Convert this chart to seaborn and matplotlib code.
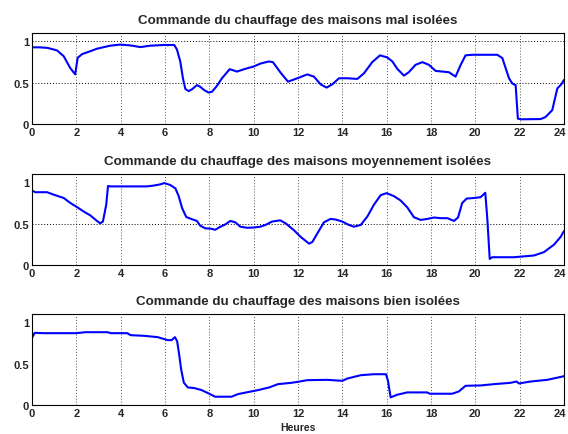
import numpy as np
import pandas as pd
import matplotlib
matplotlib.use("Agg")
import matplotlib.pyplot as plt
import seaborn as sns

# Heating command over 24 hours, three house insulation levels
hours_mal = [0, 0.34, 0.7, 1.13, 1.43, 1.73, 1.95, 2.06, 2.26, 2.63, 2.93, 3.53, 3.98, 4.44,
             4.89, 5.34, 5.94, 6.42, 6.54, 6.69, 6.81, 6.92, 7.07, 7.22, 7.44, 7.59, 7.77,
             7.97, 8.12, 8.35, 8.57, 8.92, 9.25, 9.62, 10.0, 10.3, 10.68, 10.87, 11.2,
             11.55, 11.97, 12.42, 12.72, 13.02, 13.29, 13.55, 13.85, 14.23, 14.68, 14.98,
             15.35, 15.7, 16.03, 16.26, 16.48, 16.78, 17.0, 17.3, 17.61, 17.91, 18.21,
             18.51, 18.81, 19.11, 19.34, 19.56, 19.86, 20.24, 20.99, 21.22, 21.37, 21.52,
             21.67, 21.82, 21.92, 22.05, 22.95, 23.17, 23.47, 23.7, 23.88, 24.0]
cmd_mal = [0.927, 0.927, 0.92, 0.89, 0.82, 0.675, 0.60, 0.80, 0.845, 0.88, 0.91, 0.947,
           0.96, 0.95, 0.93, 0.947, 0.955, 0.955, 0.90, 0.756, 0.553, 0.423, 0.398, 0.42,
           0.47, 0.45, 0.41, 0.38, 0.39, 0.463, 0.553, 0.663, 0.634, 0.667, 0.695, 0.73,
           0.756, 0.748, 0.626, 0.512, 0.553, 0.60, 0.573, 0.48, 0.44, 0.48, 0.553, 0.553,
           0.545, 0.614, 0.748, 0.83, 0.805, 0.756, 0.667, 0.585, 0.626, 0.715, 0.748,
           0.715, 0.642, 0.634, 0.626, 0.573, 0.715, 0.83, 0.837, 0.837, 0.837, 0.797,
           0.675, 0.553, 0.49, 0.47, 0.065, 0.057, 0.06, 0.085, 0.167, 0.43, 0.48, 0.533]

hours_moy = [0, 0.15, 0.68, 0.98, 1.43, 1.73, 2.03, 2.33, 2.63, 2.93, 3.08, 3.2, 3.35,
             3.43, 3.53, 3.98, 5.19, 5.49, 5.79, 5.97, 6.24, 6.47, 6.62, 6.77, 6.96, 7.22,
             7.44, 7.59, 7.82, 8.05, 8.27, 8.5, 8.72, 8.95, 9.17, 9.4, 9.7, 10.0, 10.3,
             10.53, 10.83, 11.2, 11.44, 11.82, 12.12, 12.5, 12.65, 12.87, 13.17, 13.47,
             13.7, 14.0, 14.3, 14.53, 14.83, 15.13, 15.43, 15.73, 16.0, 16.33, 16.63, 16.93,
             17.23, 17.53, 17.83, 18.14, 18.44, 18.74, 19.04, 19.22, 19.41, 19.61, 19.94,
             20.24, 20.45, 20.54, 20.65, 20.77, 21.74, 22.65, 23.1, 23.55, 23.85, 24.0]
cmd_moy = [0.90, 0.88, 0.88, 0.85, 0.81, 0.75, 0.70, 0.647, 0.60, 0.533, 0.504, 0.525,
           0.73, 0.955, 0.95, 0.95, 0.95, 0.96, 0.975, 0.99, 0.967, 0.926, 0.832, 0.69,
           0.58, 0.553, 0.533, 0.475, 0.443, 0.44, 0.426, 0.463, 0.49, 0.533, 0.516, 0.463,
           0.45, 0.453, 0.463, 0.484, 0.525, 0.54, 0.504, 0.42, 0.34, 0.258, 0.279, 0.38,
           0.516, 0.557, 0.55, 0.525, 0.484, 0.463, 0.484, 0.586, 0.73, 0.844, 0.869,
           0.832, 0.78, 0.697, 0.578, 0.545, 0.557, 0.574, 0.566, 0.566, 0.533, 0.574,
           0.75, 0.803, 0.81, 0.82, 0.873, 0.566, 0.074, 0.094, 0.094, 0.115, 0.156, 0.246,
           0.34, 0.41]

hours_bien = [0, 0.12, 0.53, 2.0, 2.42, 3.4, 3.56, 4.3, 4.45, 5.06, 5.67, 6.12, 6.3,
              6.45, 6.55, 6.65, 6.73, 6.85, 7.03, 7.33, 7.65, 8.03, 8.26, 9.0, 9.3, 9.9,
              10.2, 10.7, 11.1, 11.7, 12.0, 12.42, 13.32, 14.0, 14.23, 14.83, 15.43, 15.97,
              16.06, 16.18, 16.48, 16.93, 17.83, 17.95, 18.96, 19.26, 19.56, 20.24, 20.84,
              21.59, 21.86, 21.97, 22.5, 23.25, 24.0]
cmd_bien = [0.81, 0.872, 0.868, 0.868, 0.88, 0.88, 0.868, 0.868, 0.844, 0.836, 0.82,
            0.784, 0.784, 0.82, 0.77, 0.59, 0.43, 0.27, 0.212, 0.204, 0.18, 0.132, 0.10,
            0.10, 0.132, 0.164, 0.18, 0.212, 0.252, 0.268, 0.28, 0.30, 0.304, 0.292, 0.32,
            0.36, 0.372, 0.372, 0.292, 0.092, 0.124, 0.152, 0.152, 0.136, 0.136, 0.164,
            0.232, 0.236, 0.252, 0.268, 0.284, 0.26, 0.284, 0.304, 0.348]

titles = ["Commande du chauffage des maisons mal isolées",
          "Commande du chauffage des maisons moyennement isolées",
          "Commande du chauffage des maisons bien isolées"]
x_ticks = list(range(0, 25, 2))
y_ticks = [0, 0.5, 1]
y_tick_labels = ["0", "0.5", "1"]
x_label = "Heures"

sns.set_style("white")
plt.rcParams["font.family"] = ["Liberation Sans", "DejaVu Sans"]
plt.rcParams["font.weight"] = "bold"

fig = plt.figure(figsize=(5.68, 4.35), dpi=100)
left, width, height = 0.0563, 0.9366, 0.2092
bottoms = [0.7126, 0.3885, 0.0667]
series = [(hours_mal, cmd_mal), (hours_moy, cmd_moy), (hours_bien, cmd_bien)]
hgrid = [[0.5, 1.0], [0.5], []]

for i, ((h, c), title) in enumerate(zip(series, titles)):
    ax = fig.add_axes([left, bottoms[i], width, height])
    df = pd.DataFrame({"h": h, "c": c})
    sns.lineplot(data=df, x="h", y="c", ax=ax, color=(0, 0, 1), linewidth=1.5)
    ax.set_xlim(0, 24)
    ax.set_ylim(0, 1.1)
    ax.set_xticks(x_ticks)
    # the last hour label is drawn separately, nudged left so it stays inside
    labels = [str(t) for t in x_ticks]
    ax.set_xticklabels(labels[:-1] + [""], fontsize=8, fontweight="bold")
    ax.annotate(labels[-1], xy=(x_ticks[-1], 0), xycoords=("data", "axes fraction"),
                xytext=(-3, -2), textcoords="offset points", ha="center", va="top",
                fontsize=8, fontweight="bold")
    ax.set_yticks(y_ticks)
    ax.set_yticklabels(y_tick_labels, fontsize=8, fontweight="bold")
    ax.tick_params(direction="in", length=3, width=0.6, pad=2, color="black")
    for t in x_ticks[1:-1]:
        ax.axvline(t, color="#555555", linestyle=(0, (1, 2)), linewidth=0.7, zorder=0)
    for yv in hgrid[i]:
        ax.axhline(yv, color="black", linestyle=(0, (1, 2)), linewidth=0.7, zorder=0)
    for s in ax.spines.values():
        s.set_color("black")
        s.set_linewidth(0.8)
    ax.set_title(title, fontsize=9.6, fontweight="bold", pad=7)
    ax.set_xlabel("")
    ax.set_ylabel("")
    if i == 2:
        ax.set_xlabel(x_label, fontsize=7.5, fontweight="bold", labelpad=3)

fig.savefig("out.png", dpi=100)
